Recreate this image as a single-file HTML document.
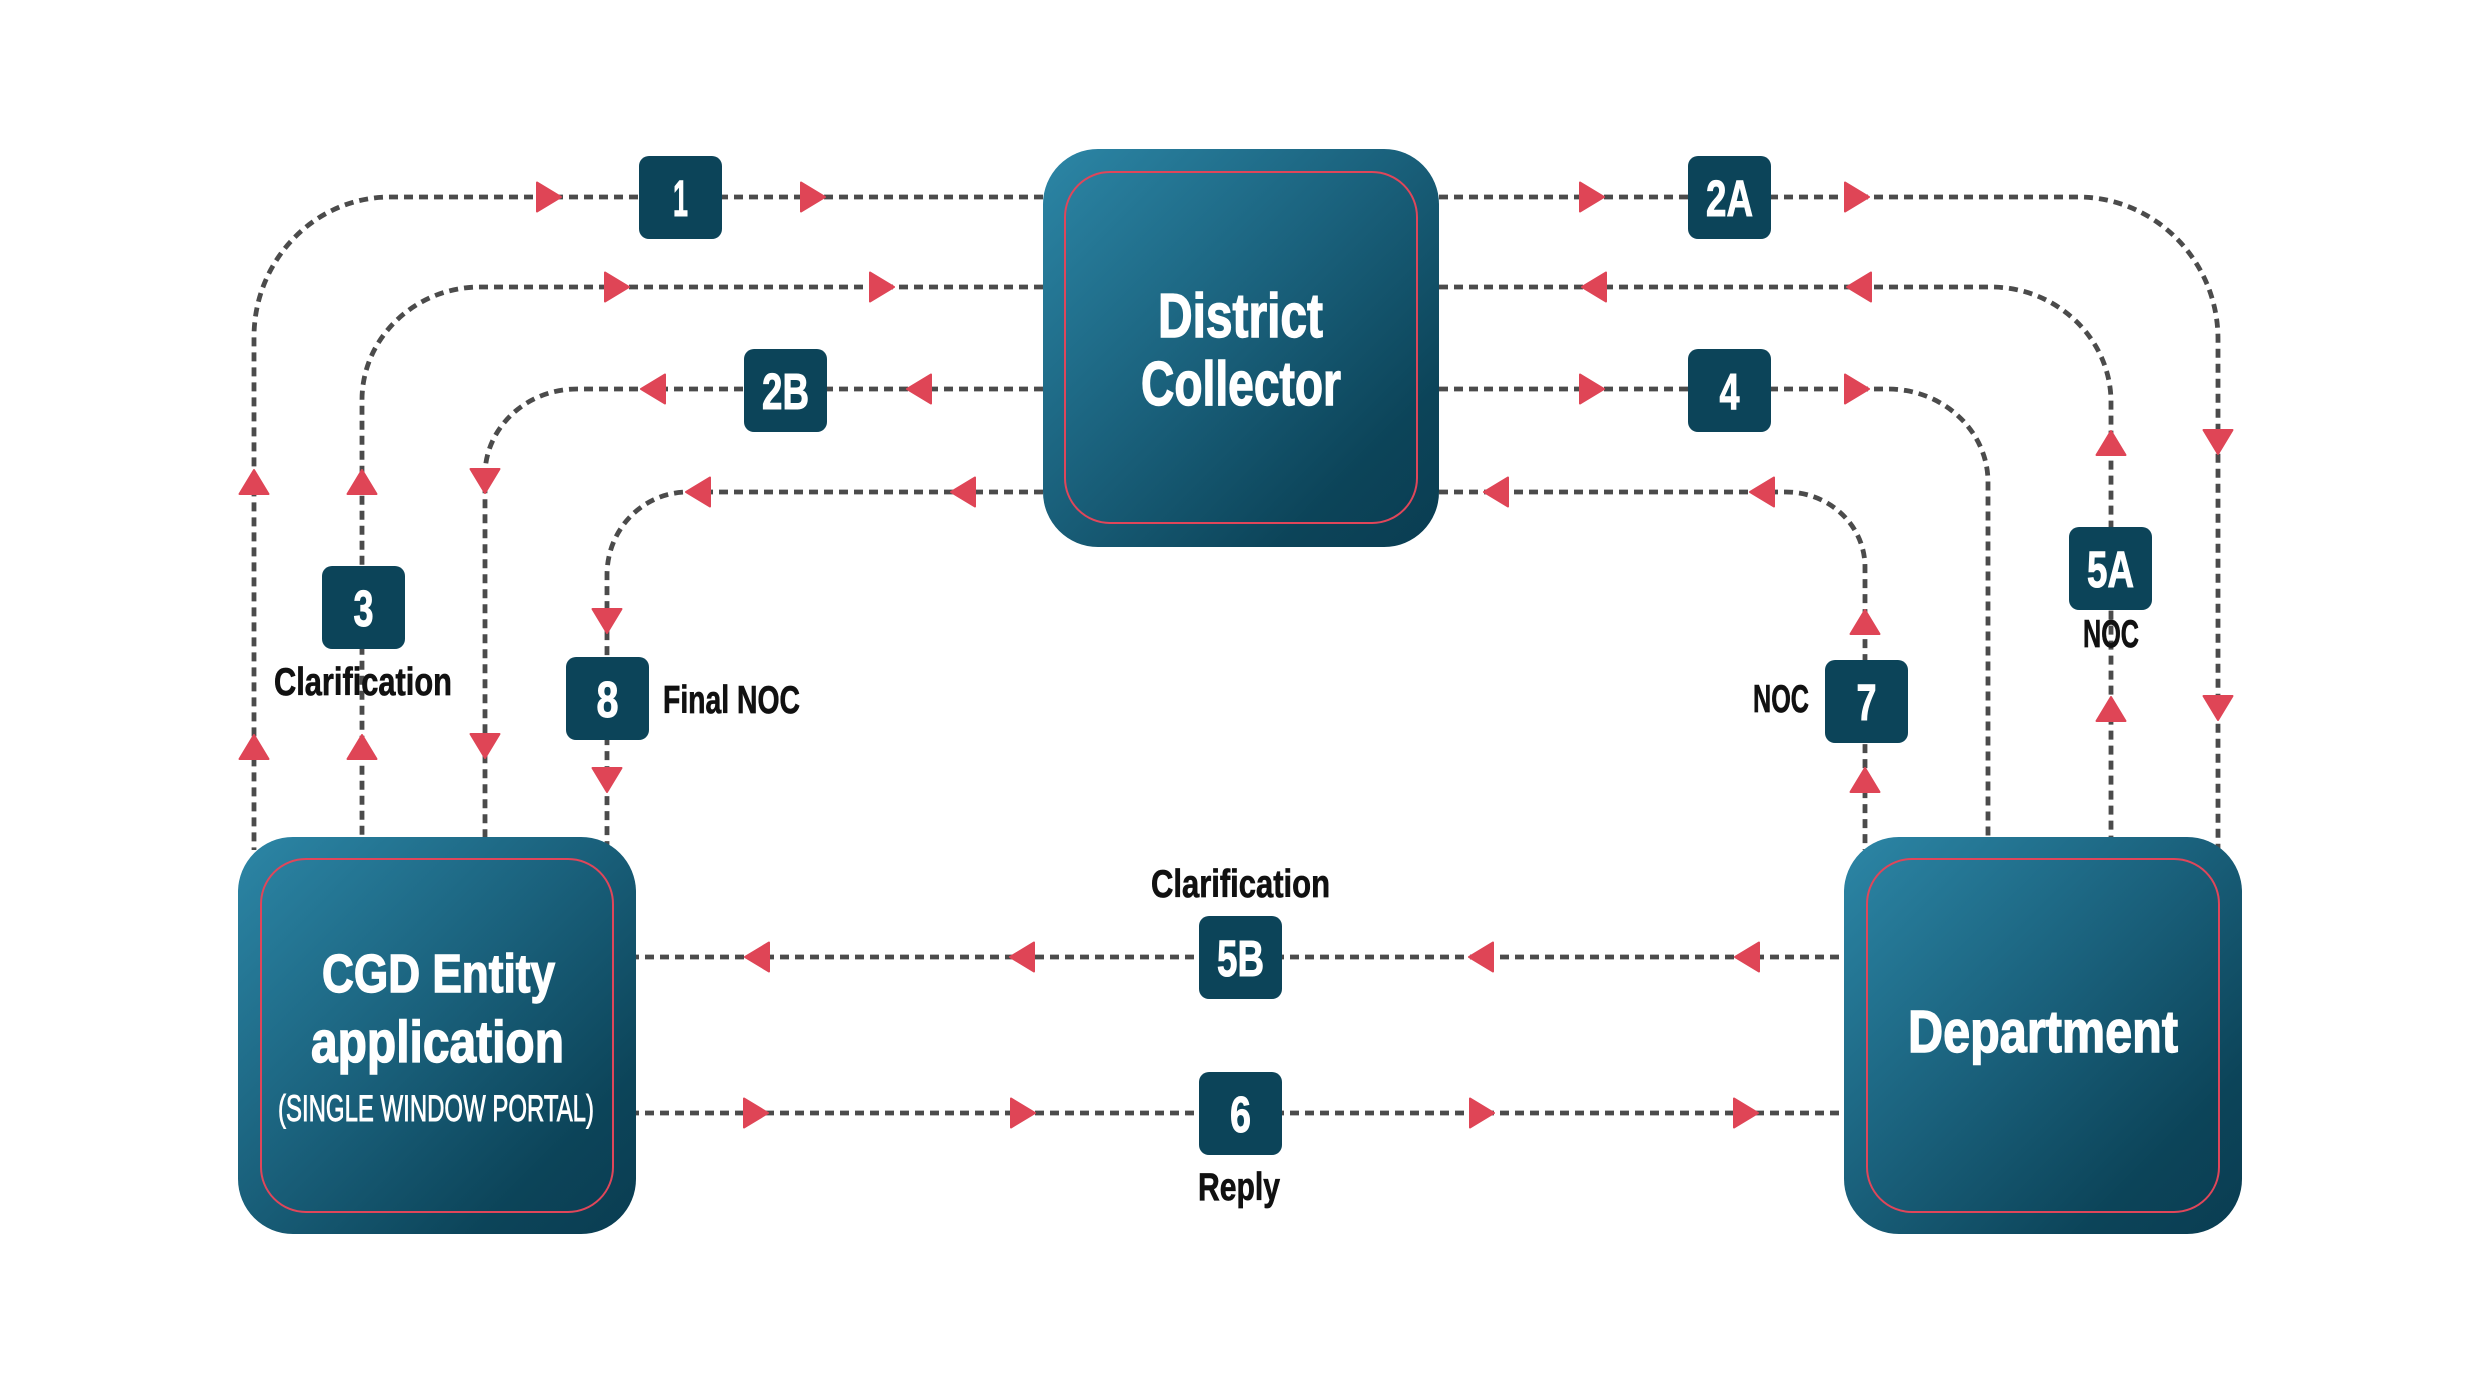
<!DOCTYPE html>
<html>
<head>
<meta charset="utf-8">
<style>
  html, body { margin: 0; padding: 0; background: #ffffff; }
  svg { display: block; }
  .lbl { font-family: "Liberation Sans", "DejaVu Sans", sans-serif; font-weight: bold; fill: #ffffff; stroke: #ffffff; stroke-width: 1; }
  .big { font-family: "Liberation Sans", "DejaVu Sans", sans-serif; font-weight: bold; fill: #ffffff; stroke: #ffffff; stroke-width: 1.4; }
  .sub { font-family: "Liberation Sans", "DejaVu Sans", sans-serif; font-weight: normal; fill: #ffffff; stroke: #ffffff; stroke-width: 0.9; }
  .cap { font-family: "Liberation Sans", "DejaVu Sans", sans-serif; font-weight: bold; fill: #111111; stroke: #111111; stroke-width: 0.7; }
</style>
</head>
<body>
<svg width="2481" height="1383" viewBox="0 0 2481 1383" xmlns="http://www.w3.org/2000/svg">
  <defs>
    <linearGradient id="g" x1="0" y1="0" x2="1" y2="1">
      <stop offset="0" stop-color="#2c86a6"/>
      <stop offset="0.45" stop-color="#1a617c"/>
      <stop offset="0.8" stop-color="#0c4459"/>
      <stop offset="1" stop-color="#0a3d52"/>
    </linearGradient>
  </defs>
  <rect width="2481" height="1383" fill="#ffffff"/>

  <!-- dashed connectors -->
  <g fill="none" stroke="#4b4b4b" stroke-width="4.8" stroke-dasharray="9 6">
    <!-- left side -->
    <path d="M1043 197 L390 197 C315 197 254 260 254 337 L254 850"/>
    <path d="M1043 287 L480 287 C415 287 362 338 362 400 L362 850"/>
    <path d="M1043 389 L577 389 C526 389 485 428 485 475 L485 850"/>
    <path d="M1043 492 L688 492 C643 492 607 529 607 575 L607 850"/>
    <!-- right side -->
    <path d="M1439 197 L2078 197 C2155 197 2218 261 2218 339 L2218 850"/>
    <path d="M1439 287 L1991 287 C2057 287 2111 339 2111 402 L2111 850"/>
    <path d="M1439 389 L1888 389 C1943 389 1988 431 1988 482 L1988 850"/>
    <path d="M1439 492 L1786 492 C1830 492 1865 526 1865 567 L1865 850"/>
    <!-- bottom -->
    <path d="M630 957 L1850 957"/>
    <path d="M630 1113 L1850 1113"/>
  </g>

  <!-- main boxes -->
  <rect x="1043" y="149" width="396" height="398" rx="55" fill="url(#g)"/>
  <rect x="1065" y="172" width="352" height="351" rx="45" fill="none" stroke="#e0465a" stroke-width="2"/>

  <rect x="238" y="837" width="398" height="397" rx="55" fill="url(#g)"/>
  <rect x="261" y="859" width="352" height="353" rx="45" fill="none" stroke="#e0465a" stroke-width="2"/>

  <rect x="1844" y="837" width="398" height="397" rx="55" fill="url(#g)"/>
  <rect x="1867" y="859" width="352" height="353" rx="45" fill="none" stroke="#e0465a" stroke-width="2"/>

  <!-- main box text -->
  <text class="big" x="1158" y="337" font-size="62" textLength="165" lengthAdjust="spacingAndGlyphs">District</text>
  <text class="big" x="1141" y="405" font-size="62" textLength="200" lengthAdjust="spacingAndGlyphs">Collector</text>

  <text class="big" x="322" y="992" font-size="54" textLength="233" lengthAdjust="spacingAndGlyphs">CGD Entity</text>
  <text class="big" x="311" y="1062" font-size="58" textLength="253" lengthAdjust="spacingAndGlyphs">application</text>
  <text class="sub" x="278" y="1121" font-size="37" textLength="316" lengthAdjust="spacingAndGlyphs">(SINGLE WINDOW PORTAL)</text>

  <text class="big" x="1908" y="1052" font-size="59" textLength="270" lengthAdjust="spacingAndGlyphs">Department</text>

  <!-- step label boxes -->
  <g fill="#0c4459">
    <rect x="639" y="156" width="83" height="83" rx="10"/>
    <rect x="1688" y="156" width="83" height="83" rx="10"/>
    <rect x="744" y="349" width="83" height="83" rx="10"/>
    <rect x="1688" y="349" width="83" height="83" rx="10"/>
    <rect x="322" y="566" width="83" height="83" rx="10"/>
    <rect x="566" y="657" width="83" height="83" rx="10"/>
    <rect x="1825" y="660" width="83" height="83" rx="10"/>
    <rect x="2069" y="527" width="83" height="83" rx="10"/>
    <rect x="1199" y="916" width="83" height="83" rx="10"/>
    <rect x="1199" y="1072" width="83" height="83" rx="10"/>
  </g>
  <g class="lbl" font-size="51" text-anchor="middle">
    <text x="680.5" y="216" textLength="15" lengthAdjust="spacingAndGlyphs">1</text>
    <text x="1729.5" y="216" textLength="47" lengthAdjust="spacingAndGlyphs">2A</text>
    <text x="785.5" y="409" textLength="47" lengthAdjust="spacingAndGlyphs">2B</text>
    <text x="1729.5" y="409" textLength="20" lengthAdjust="spacingAndGlyphs">4</text>
    <text x="363.5" y="626" textLength="20" lengthAdjust="spacingAndGlyphs">3</text>
    <text x="607.5" y="717" textLength="22" lengthAdjust="spacingAndGlyphs">8</text>
    <text x="1866.5" y="720" textLength="20" lengthAdjust="spacingAndGlyphs">7</text>
    <text x="2110.5" y="587" textLength="47" lengthAdjust="spacingAndGlyphs">5A</text>
    <text x="1240.5" y="976" textLength="47" lengthAdjust="spacingAndGlyphs">5B</text>
    <text x="1240.5" y="1132" textLength="21" lengthAdjust="spacingAndGlyphs">6</text>
  </g>

  <!-- captions -->
  <g class="cap" font-size="39">
    <text x="274" y="695" textLength="178" lengthAdjust="spacingAndGlyphs">Clarification</text>
    <text x="663" y="713" textLength="137" lengthAdjust="spacingAndGlyphs">Final NOC</text>
    <text x="2083" y="647" textLength="56" lengthAdjust="spacingAndGlyphs">NOC</text>
    <text x="1753" y="712" textLength="56" lengthAdjust="spacingAndGlyphs">NOC</text>
    <text x="1151" y="897" textLength="179" lengthAdjust="spacingAndGlyphs">Clarification</text>
    <text x="1198" y="1200" textLength="82" lengthAdjust="spacingAndGlyphs">Reply</text>
  </g>

  <!-- arrowheads -->
  <g fill="#df4556" stroke="#df4556" stroke-width="2" stroke-linejoin="round">
    <!-- row A y=197 right -->
    <polygon points="537,182.5 561,197 537,211.5"/>
    <polygon points="801,182.5 825,197 801,211.5"/>
    <polygon points="1580,182.5 1604,197 1580,211.5"/>
    <polygon points="1845,182.5 1869,197 1845,211.5"/>
    <!-- row B y=287 -->
    <polygon points="605,272.5 629,287 605,301.5"/>
    <polygon points="870,272.5 894,287 870,301.5"/>
    <polygon points="1606,272.5 1582,287 1606,301.5"/>
    <polygon points="1871,272.5 1847,287 1871,301.5"/>
    <!-- row C y=389 -->
    <polygon points="665,374.5 641,389 665,403.5"/>
    <polygon points="931,374.5 907,389 931,403.5"/>
    <polygon points="1580,374.5 1604,389 1580,403.5"/>
    <polygon points="1845,374.5 1869,389 1845,403.5"/>
    <!-- row D y=492 left -->
    <polygon points="710,477.5 686,492 710,506.5"/>
    <polygon points="975,477.5 951,492 975,506.5"/>
    <polygon points="1508,477.5 1484,492 1508,506.5"/>
    <polygon points="1774,477.5 1750,492 1774,506.5"/>
    <!-- row 5B y=957 left -->
    <polygon points="769,942.5 745,957 769,971.5"/>
    <polygon points="1034,942.5 1010,957 1034,971.5"/>
    <polygon points="1493,942.5 1469,957 1493,971.5"/>
    <polygon points="1759,942.5 1735,957 1759,971.5"/>
    <!-- row 6 y=1113 right -->
    <polygon points="744,1098.5 768,1113 744,1127.5"/>
    <polygon points="1011,1098.5 1035,1113 1011,1127.5"/>
    <polygon points="1470,1098.5 1494,1113 1470,1127.5"/>
    <polygon points="1734,1098.5 1758,1113 1734,1127.5"/>
    <!-- vertical x=254 up -->
    <polygon points="239.5,494 254,470 268.5,494"/>
    <polygon points="239.5,759 254,735 268.5,759"/>
    <!-- x=362 up -->
    <polygon points="347.5,494 362,470 376.5,494"/>
    <polygon points="347.5,759 362,735 376.5,759"/>
    <!-- x=485 down -->
    <polygon points="470.5,469 485,493 499.5,469"/>
    <polygon points="470.5,734 485,758 499.5,734"/>
    <!-- x=607 down -->
    <polygon points="592.5,609 607,633 621.5,609"/>
    <polygon points="592.5,768 607,792 621.5,768"/>
    <!-- x=1865 up -->
    <polygon points="1850.5,634 1865,610 1879.5,634"/>
    <polygon points="1850.5,792 1865,768 1879.5,792"/>
    <!-- x=2111 up -->
    <polygon points="2096.5,455 2111,431 2125.5,455"/>
    <polygon points="2096.5,721 2111,697 2125.5,721"/>
    <!-- x=2218 down -->
    <polygon points="2203.5,430 2218,454 2232.5,430"/>
    <polygon points="2203.5,696 2218,720 2232.5,696"/>
  </g>
</svg>
</body>
</html>
